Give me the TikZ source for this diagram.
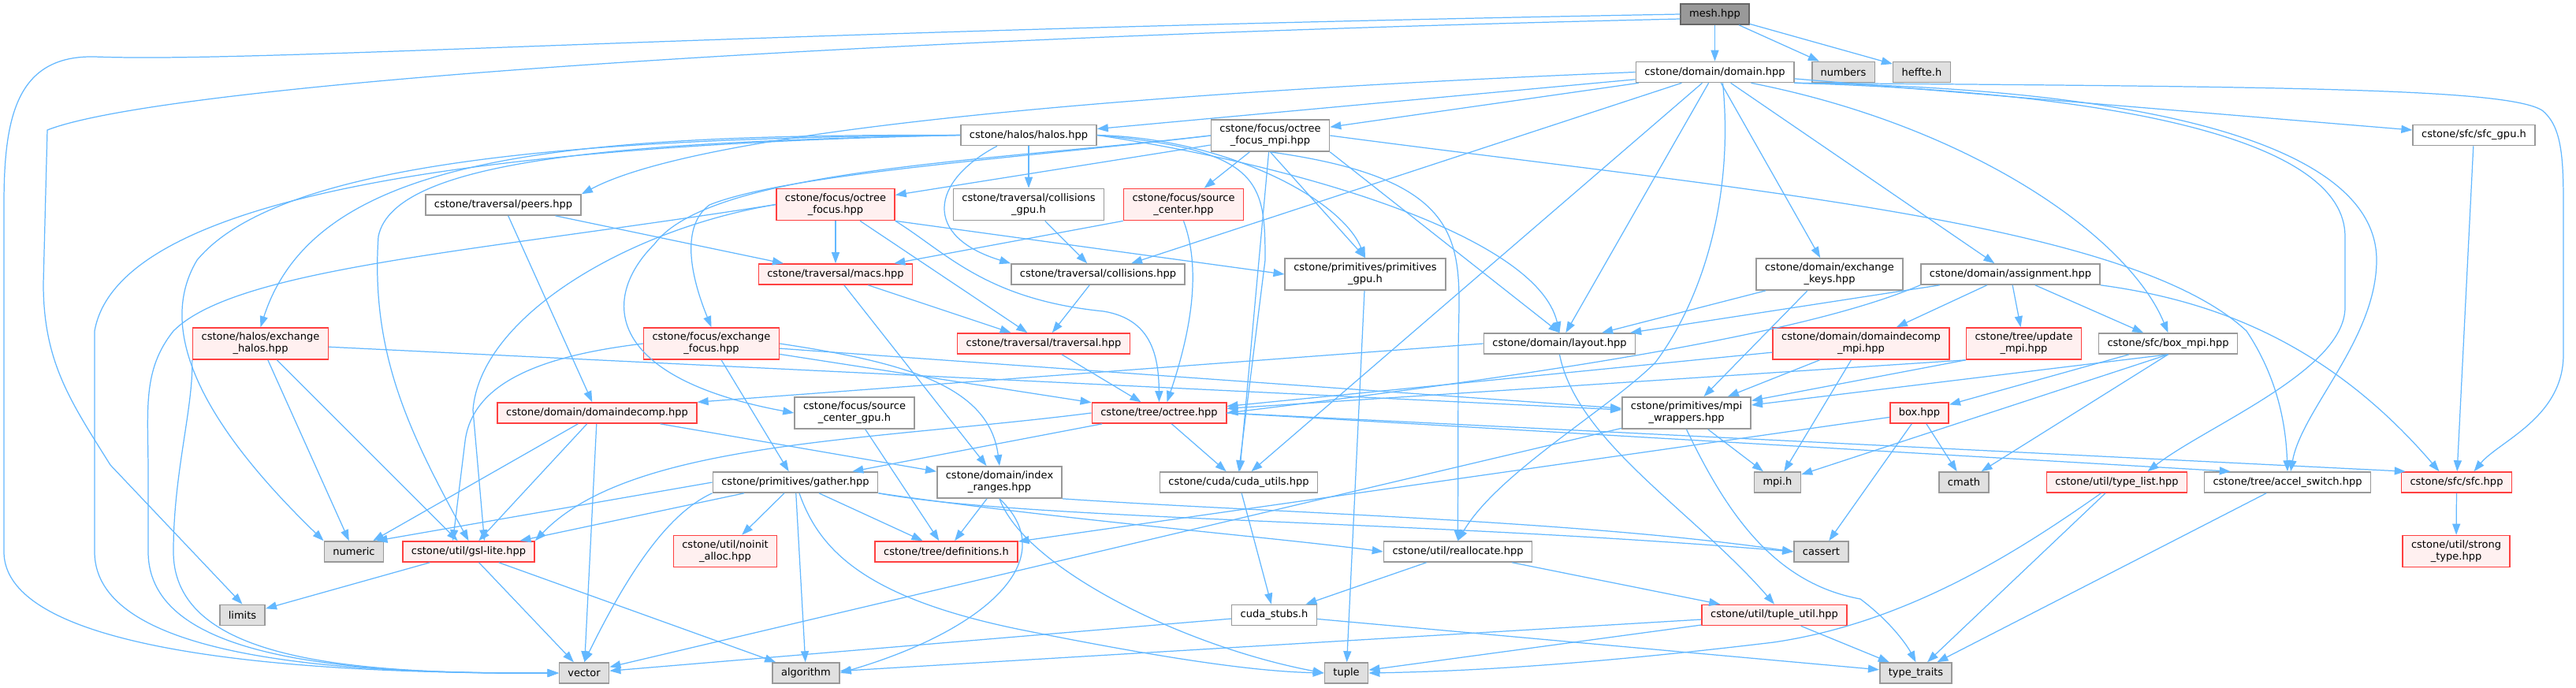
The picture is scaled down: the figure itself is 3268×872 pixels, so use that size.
\documentclass[tikz,border=0pt]{standalone}
\usepackage{fontspec}
\setmainfont{DejaVu Sans}
\usepackage{xcolor}
\usepackage{tikz}
\usetikzlibrary{arrows.meta, calc}

\definecolor{depblue}{HTML}{63B8FF}
\definecolor{fgray}{HTML}{999999}
\definecolor{sysfill}{HTML}{E0E0E0}
\definecolor{cutred}{HTML}{FF4040}
\definecolor{cutfill}{HTML}{FFF0F0}

\begin{document}
\begin{tikzpicture}[x=0.01cm, y=-0.01cm,
  hfile/.style={draw=fgray, fill=white, line width=0.45pt, inner xsep=0.11cm, inner ysep=0.06cm,
    minimum height=0.26cm, align=center, font=\fontsize{3.7pt}{4.3pt}\selectfont},
  cut/.style={hfile, draw=cutred, fill=cutfill},
  sys/.style={hfile, fill=sysfill},
  root/.style={hfile, fill=fgray, draw=black!60},
  dep/.style={draw=depblue, line width=0.35pt, -{Triangle[length=0.14cm, width=0.1cm]}},
]
  \fill[white] (0,0) rectangle (3268,872);
  \useasboundingbox (0,0) rectangle (3268,872);

  % Row 1-2: the file and its direct includes
  \node[root] (mesh) at (2175.5,18) {mesh.hpp};
  \node[hfile] (dom) at (2175.5,91.5) {cstone/domain/domain.hpp};
  \node[sys] (numbers) at (2338.5,91.5) {numbers};
  \node[sys] (heffte) at (2438,91.5) {heffte.h};

  % Row 3
  \node[hfile] (halos) at (1305,171.5) {cstone/halos/halos.hpp};
  \node[hfile] (ofmpi) at (1611.5,172) {cstone/focus/octree\\\_focus\_mpi.hpp};
  \node[hfile] (sfcgpu) at (3138.5,171.5) {cstone/sfc/sfc\_gpu.h};

  % Row 4
  \node[hfile] (peers) at (638.5,260) {cstone/traversal/peers.hpp};
  \node[cut] (ofocus) at (1060,259.5) {cstone/focus/octree\\\_focus.hpp};
  \node[hfile] (collgpu) at (1305,259.5) {cstone/traversal/collisions\\\_gpu.h};
  \node[cut] (srcc) at (1501.5,259.5) {cstone/focus/source\\\_center.hpp};

  % Row 5
  \node[cut] (macs) at (1060,348) {cstone/traversal/macs.hpp};
  \node[hfile] (coll) at (1393,348) {cstone/traversal/collisions.hpp};
  \node[hfile] (primgpu) at (1732,348) {cstone/primitives/primitives\\\_gpu.h};
  \node[hfile] (exkeys) at (2321,348) {cstone/domain/exchange\\\_keys.hpp};
  \node[hfile] (assign) at (2550.5,348) {cstone/domain/assignment.hpp};

  % Row 6
  \node[cut] (exhalos) at (330.5,436) {cstone/halos/exchange\\\_halos.hpp};
  \node[cut] (exfocus) at (902.5,436) {cstone/focus/exchange\\\_focus.hpp};
  \node[cut] (trav) at (1324,436) {cstone/traversal/traversal.hpp};
  \node[hfile] (layout) at (1978.5,436) {cstone/domain/layout.hpp};
  \node[cut] (ddmpi) at (2361,436) {cstone/domain/domaindecomp\\\_mpi.hpp};
  \node[cut] (updmpi) at (2567.5,436) {cstone/tree/update\\\_mpi.hpp};
  \node[hfile] (boxmpi) at (2750.5,436) {cstone/sfc/box\_mpi.hpp};

  % Row 7
  \node[cut] (ddecomp) at (757.5,524) {cstone/domain/domaindecomp.hpp};
  \node[hfile] (srcgpu) at (1084,524) {cstone/focus/source\\\_center\_gpu.h};
  \node[cut] (octree) at (1470.5,524) {cstone/tree/octree.hpp};
  \node[hfile] (mpiw) at (2139.5,524) {cstone/primitives/mpi\\\_wrappers.hpp};
  \node[cut] (box) at (2435,524) {box.hpp};

  % Row 8
  \node[hfile] (gather) at (1009,612) {cstone/primitives/gather.hpp};
  \node[hfile] (idxr) at (1268,612) {cstone/domain/index\\\_ranges.hpp};
  \node[hfile] (cudau) at (1571.5,612) {cstone/cuda/cuda\_utils.hpp};
  \node[sys] (mpih) at (2255,612) {mpi.h};
  \node[sys] (cmath) at (2491.5,612) {cmath};
  \node[cut] (tlist) at (2685.5,612) {cstone/util/type\_list.hpp};
  \node[hfile] (accel) at (2902,612) {cstone/tree/accel\_switch.hpp};
  \node[cut] (sfc) at (3116.5,612) {cstone/sfc/sfc.hpp};

  % Row 9
  \node[sys] (numeric) at (449,700) {numeric};
  \node[cut] (gsl) at (594.5,700) {cstone/util/gsl-lite.hpp};
  \node[cut] (noinit) at (920,699.5) {cstone/util/noinit\\\_alloc.hpp};
  \node[cut] (defs) at (1200.5,700) {cstone/tree/definitions.h};
  \node[hfile] (realloc) at (1849.5,700) {cstone/util/reallocate.hpp};
  \node[sys] (cassert) at (2310.5,700) {cassert};
  \node[cut] (strong) at (3116,699.5) {cstone/util/strong\\\_type.hpp};

  % Row 10-11
  \node[sys] (limits) at (307.5,780.5) {limits};
  \node[hfile] (cudas) at (1616.5,780.5) {cuda\_stubs.h};
  \node[cut] (tutil) at (2251,780.5) {cstone/util/tuple\_util.hpp};
  \node[sys] (vector) at (741,854) {vector};
  \node[sys] (algorithm) at (1022.5,854) {algorithm};
  \node[sys] (tuple) at (1708,854) {tuple};
  \node[sys] (ttraits) at (2430.5,854) {type\_traits};

  % mesh.hpp
  \draw[dep] (mesh) -- (dom);
  \draw[dep] (mesh) -- (numbers);
  \draw[dep] (mesh) -- (heffte);
  \draw[dep] (mesh.west) .. controls (900,40) and (330,80) .. (120,72) .. controls (20,70) and (5,150) .. (5,260)
    -- (5,700) .. controls (5,840) and (450,855) .. (vector.west);
  \draw[dep] ([yshift=-0.06cm]mesh.west) .. controls (1000,50) and (200,110) .. (60,165) -- (55,360)
    .. controls (55,460) and (90,510) .. (140,590) -- (limits.north);

  % domain.hpp
  \draw[dep] (dom) -- (halos);
  \draw[dep] (dom) -- (ofmpi);
  \draw[dep] (dom.west) .. controls (1500,115) and (900,160) .. (peers.north east);
  \draw[dep] (dom) -- (sfcgpu);
  \draw[dep] (dom) -- (coll);
  \draw[dep] (dom) -- (layout);
  \draw[dep] (dom) -- (cudau);
  \draw[dep] (dom) -- (exkeys);
  \draw[dep] (dom) -- (assign);
  \draw[dep] ([xshift=0.1cm]dom.south) .. controls (2200,250) and (2160,380) .. (2100,460)
    .. controls (2040,520) and (1900,600) .. (realloc.north);
  \draw[dep] ([xshift=-0.55cm]dom.south east) .. controls (2500,160) and (2700,300) .. (boxmpi.north);
  \draw[dep] (dom.south east) .. controls (2700,118) and (2975,180) .. (2975,300) -- (2975,390)
    .. controls (2975,470) and (2800,540) .. ([xshift=0.39cm]tlist.north);
  \draw[dep] (dom.south east) .. controls (2750,112) and (3015,190) .. (3015,330)
    .. controls (3015,430) and (2920,520) .. ([xshift=0.04cm]accel.north);
  \draw[dep] (dom.south east) .. controls (2900,110) and (3180,112) .. (3225,140)
    .. controls (3250,160) and (3252,200) .. (3252,260) -- (3252,450)
    .. controls (3252,530) and (3170,560) .. ([xshift=0.22cm]sfc.north);

  % halos.hpp
  \draw[dep] (halos) -- (collgpu);
  \draw[dep] ([xshift=-0.4cm]halos.south) .. controls (1180,230) and (1170,300) .. (coll.north west);
  \draw[dep] (halos.west) .. controls (700,170) and (400,200) .. (exhalos.north);
  \draw[dep] (halos.east) .. controls (1650,210) and (1950,300) .. (layout.north);
  \draw[dep] (halos.east) .. controls (1550,175) and (1700,250) .. (primgpu.north);
  \draw[dep] (halos.east) .. controls (1600,190) and (1605,230) .. (1605,330) -- (cudau.north);
  \draw[dep] (halos.west) .. controls (800,180) and (500,200) .. (480,300)
    .. controls (470,450) and (520,550) .. (gsl.north);
  \draw[dep] (halos.west) .. controls (700,175) and (350,210) .. (250,330)
    .. controls (190,430) and (280,560) .. (numeric.north west);
  \draw[dep] (halos.west) .. controls (600,185) and (150,250) .. (120,420) -- (120,700)
    .. controls (120,840) and (450,855) .. (vector.west);

  % octree_focus_mpi.hpp
  \draw[dep] (ofmpi) -- (ofocus);
  \draw[dep] (ofmpi) -- (srcc);
  \draw[dep] (ofmpi.west) .. controls (1300,200) and (1000,220) .. (900,260)
    .. controls (860,290) and (880,360) .. (exfocus.north);
  \draw[dep] (ofmpi.west) .. controls (1250,205) and (900,215) .. (830,310)
    .. controls (760,380) and (770,480) .. (srcgpu.west);
  \draw[dep] (ofmpi.south east) -- (layout.north);
  \draw[dep] (ofmpi.south) -- (primgpu.north);
  \draw[dep] (ofmpi) -- (cudau);
  \draw[dep] (ofmpi.south) .. controls (1880,230) and (1850,320) .. (1850,450) -- (realloc.north);
  \draw[dep] (ofmpi.east) .. controls (2200,240) and (2700,280) .. (2850,420)
    .. controls (2890,480) and (2900,540) .. (accel.north);

  % traversal and focus
  \draw[dep] (peers) -- (macs);
  \draw[dep] (peers) -- (ddecomp);
  \draw[dep] (ofocus) -- (macs);
  \draw[dep] (ofocus) -- (trav);
  \draw[dep] (ofocus.south east) .. controls (1200,320) and (1250,380) .. (1400,395)
    .. controls (1460,405) and (1470,450) .. (octree.north);
  \draw[dep] (ofocus.south east) -- (primgpu.west);
  \draw[dep] (ofocus.west) .. controls (800,290) and (610,400) .. (600,520) -- ([xshift=0.2cm]gsl.north);
  \draw[dep] (ofocus.west) .. controls (600,320) and (300,340) .. (220,420)
    .. controls (180,470) and (188,520) .. (188,600) -- (188,700)
    .. controls (188,840) and (450,855) .. (vector.west);
  \draw[dep] (srcc.south west) -- (macs);
  \draw[dep] (srcc.south) .. controls (1520,330) and (1518,400) .. ([xshift=0.1cm]octree.north);
  \draw[dep] (collgpu) -- (coll);
  \draw[dep] (macs) -- (trav);
  \draw[dep] (macs) -- (idxr);
  \draw[dep] (coll) -- (trav);
  \draw[dep] (trav) -- (octree);

  % domain helpers
  \draw[dep] (exkeys) -- (layout);
  \draw[dep] ([xshift=-0.28cm]exkeys.south) -- ([xshift=0.22cm]mpiw.north);
  \draw[dep] (assign) -- (ddmpi);
  \draw[dep] (assign) -- (updmpi);
  \draw[dep] (assign) -- (boxmpi);
  \draw[dep] (assign) -- (layout);
  \draw[dep] (assign.south west) .. controls (2300,420) and (2000,470) .. (octree.east);
  \draw[dep] (assign.south east) .. controls (2800,380) and (2950,430) .. ([xshift=-0.22cm]sfc.north);
  \draw[dep] (layout.west) -- (ddecomp.north east);
  \draw[dep] (layout.south) .. controls (2000,560) and (2150,650) .. (tutil.north);
  \draw[dep] (ddmpi) -- (mpiw);
  \draw[dep] (ddmpi) -- (octree);
  \draw[dep] (ddmpi) -- (mpih);
  \draw[dep] (updmpi.south west) -- (mpiw);
  \draw[dep] (updmpi.south west) -- (octree);
  \draw[dep] (boxmpi) -- (box);
  \draw[dep] (boxmpi.south) -- (mpiw);
  \draw[dep] (boxmpi.south) -- (mpih);
  \draw[dep] (boxmpi.south) -- (cmath);

  % halo and focus exchange
  \draw[dep] (exhalos) -- (mpiw);
  \draw[dep] (exhalos) -- (numeric);
  \draw[dep] (exhalos) -- (gsl);
  \draw[dep] (exhalos.south west) .. controls (245,520) and (220,600) .. (220,700)
    .. controls (220,840) and (450,855) .. (vector.west);
  \draw[dep] (exfocus) -- (octree);
  \draw[dep] (exfocus) -- (gather);
  \draw[dep] (exfocus) -- (mpiw);
  \draw[dep] (exfocus.west) .. controls (700,450) and (600,480) .. (590,560) -- ([xshift=-0.2cm]gsl.north);
  \draw[dep] (exfocus.east) .. controls (1150,460) and (1255,490) .. (idxr.north);

  % lower levels
  \draw[dep] (ddecomp) -- (idxr);
  \draw[dep] (ddecomp) -- (gsl);
  \draw[dep] (ddecomp) -- (numeric);
  \draw[dep] (ddecomp) -- (vector);
  \draw[dep] (srcgpu) -- (defs);
  \draw[dep] (octree.east) -- ([xshift=0.06cm]sfc.north west);
  \draw[dep] (octree.east) -- ([xshift=0.34cm]accel.north west);
  \draw[dep] (octree) -- (cudau);
  \draw[dep] (octree) -- (gather);
  \draw[dep] (octree.west) .. controls (1100,560) and (800,560) .. (gsl.north east);
  \draw[dep] (mpiw) -- (mpih);
  \draw[dep] (mpiw) -- (vector);
  \draw[dep] (mpiw.south) .. controls (2190,650) and (2250,740) .. (2360,760)
    .. controls (2400,790) and (2420,820) .. (ttraits.north);
  \draw[dep] (box) -- (defs);
  \draw[dep] (box) -- (cmath);
  \draw[dep] (box) -- (cassert);
  \draw[dep] (primgpu) -- (tuple);

  % gather.hpp and index_ranges.hpp
  \draw[dep] (gather) -- (noinit);
  \draw[dep] (gather) -- (defs);
  \draw[dep] (gather) -- (algorithm);
  \draw[dep] (gather) -- (gsl);
  \draw[dep] (gather.west) -- ([xshift=-0.1cm]numeric.north east);
  \draw[dep] (gather.south west) .. controls (850,650) and (800,720) .. (vector.north);
  \draw[dep] ([xshift=0.05cm]gather.south) .. controls (1040,700) and (1100,760) .. (1300,800)
    .. controls (1500,840) and (1600,852) .. (tuple.west);
  \draw[dep] (gather.south east) .. controls (1300,660) and (1800,660) .. (cassert.west);
  \draw[dep] (gather.south east) .. controls (1350,660) and (1600,680) .. (realloc.west);
  \draw[dep] (idxr) -- (defs);
  \draw[dep] (idxr.south east) .. controls (1600,650) and (2000,660) .. (cassert.west);
  \draw[dep] (idxr.south) .. controls (1300,720) and (1500,820) .. (tuple.west);
  \draw[dep] (idxr.south) .. controls (1350,710) and (1250,800) .. (algorithm.east);

  % utilities
  \draw[dep] (cudau) -- (cudas);
  \draw[dep] (realloc) -- (cudas);
  \draw[dep] (realloc) -- (tutil);
  \draw[dep] (cudas) -- (ttraits);
  \draw[dep] (cudas) -- (vector);
  \draw[dep] (tutil) -- (tuple);
  \draw[dep] (tutil) -- (ttraits);
  \draw[dep] (tutil) -- (algorithm);
  \draw[dep] (tlist) -- (ttraits);
  \draw[dep] ([xshift=-0.2cm]tlist.south) .. controls (2560,700) and (2420,790) .. (2250,815)
    .. controls (2000,845) and (1850,852) .. (tuple.east);
  \draw[dep] (accel) -- (ttraits);
  \draw[dep] (sfc) -- (strong);
  \draw[dep] (sfcgpu) -- (sfc);
  \draw[dep] (gsl) -- (limits);
  \draw[dep] (gsl) -- (vector);
  \draw[dep] (gsl) -- (algorithm);
\end{tikzpicture}
\end{document}
